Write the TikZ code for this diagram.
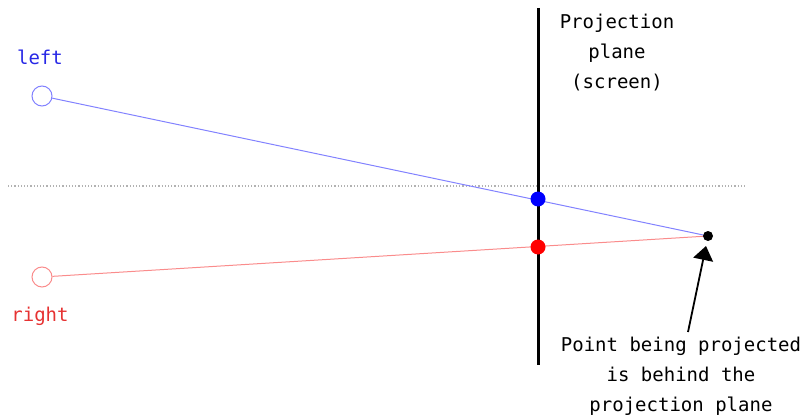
\documentclass[tikz,border=0pt]{standalone}
\usepackage{fontspec}
\setmonofont{DejaVu Sans Mono}
\usetikzlibrary{arrows.meta}
\definecolor{lblue}{RGB}{130,130,255}
\definecolor{lred}{RGB}{250,140,140}
\definecolor{tblue}{RGB}{40,40,230}
\definecolor{tred}{RGB}{230,50,50}
\tikzset{
  lbl/.style={font=\ttfamily\fontsize{19}{30}\selectfont, align=center, inner sep=0pt},
  eye/.style={circle, draw, fill=white, minimum size=20pt, inner sep=0pt, line width=1pt},
  hit/.style={circle, minimum size=15pt, inner sep=0pt},
}
\begin{document}
\begin{tikzpicture}[x=1pt,y=-1pt]
\useasboundingbox (0,0) rectangle (812,420);
% horizon
\draw[gray!60, dotted, line width=1.2pt] (8,186) -- (745,186);
% points
\coordinate (P) at (708,236);
\node[eye, draw=lblue] (L) at (42,96) {};
\node[eye, draw=lred] (R) at (42,277) {};
% rays
\draw[lblue, line width=1pt] (L) -- (P);
\draw[lred, line width=1pt] (R) -- (P);
% screen
\coordinate (Stop) at (538,8);
\coordinate (Sbot) at (538,365);
\draw[line width=3pt] (Stop) -- (Sbot);
\node[hit, fill=blue] (B) at (538,199) {};
\node[hit, fill=red] (Rd) at (538,247) {};
\node[circle, fill=black, minimum size=10pt, inner sep=0pt] (Pt) at (P) {};
% labels
\node[lbl, text=tblue] (tl) at (40,57) {left};
\node[lbl, text=tred] (tr) at (40,316) {right};
\node[lbl] (tp) at (617,53) {Projection\\plane\\(screen)};
\node[lbl] (tb) at (681,376) {Point being projected\\is behind the\\projection plane};
% arrow
\coordinate (A0) at (688,332);
\coordinate (A1) at (706,246);
\draw[line width=1.8pt, -{Triangle[length=14pt,width=20pt]}] (A0) -- (A1);
\end{tikzpicture}
\end{document}
